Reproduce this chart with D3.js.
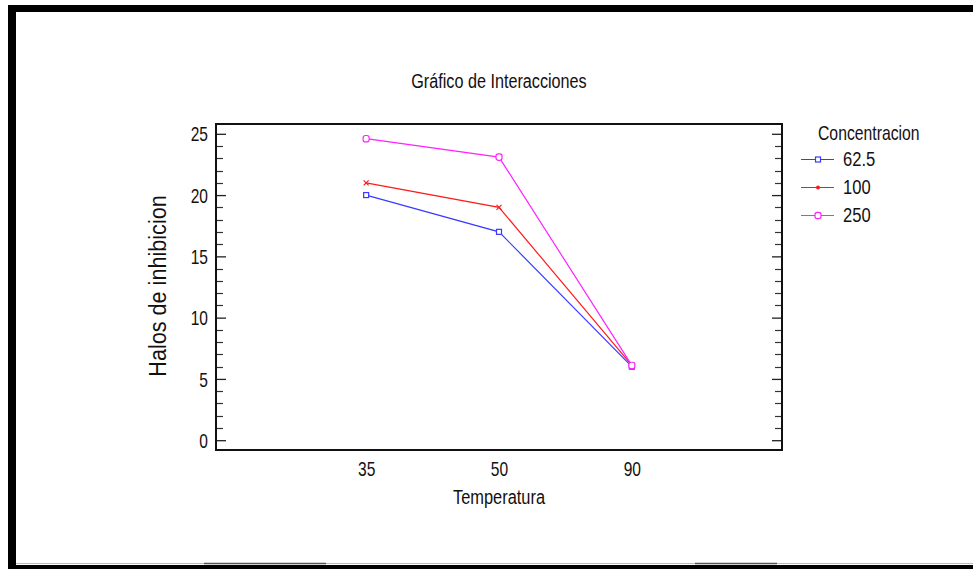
<!DOCTYPE html>
<html>
<head>
<meta charset="utf-8">
<script src="https://cdn.jsdelivr.net/npm/d3@7/dist/d3.min.js"></script>
<style>
  html, body { margin: 0; padding: 0; background: #fff; }
  svg { display: block; }
  text { font-family: Arial, "Liberation Sans", sans-serif; fill: #141010; }
</style>
</head>
<body>
<svg id="chart" width="973" height="569"></svg>
<script>
// ---- data ----
const categories = ["35", "50", "90"];
const seriesNames = ["62.5", "100", "250"];
const values625 = [20.0, 17.0, 6.0];
const values100 = [21.0, 19.0, 6.1];
const values250 = [24.6, 23.1, 6.1];
const yTicks = [0, 5, 10, 15, 20, 25];
const titleText = "Gráfico de Interacciones";
const xTitle = "Temperatura";
const yTitle = "Halos de inhibicion";
const legendTitle = "Concentracion";

const series = [
  { name: seriesNames[0], values: values625, color: "#3a3aff", marker: "square" },
  { name: seriesNames[1], values: values100, color: "#ff1a1a", marker: "cross" },
  { name: seriesNames[2], values: values250, color: "#ff22ff", marker: "circle" }
];

const svg = d3.select("#chart");

// squeeze helper: keeps text tall and narrow like the reference
function squeeze(sel, f) {
  sel.each(function () {
    const w = this.getComputedTextLength();
    d3.select(this).attr("textLength", w * f).attr("lengthAdjust", "spacingAndGlyphs");
  });
}

// outer frame (screenshot border)
svg.append("rect").attr("x", 8).attr("y", 5).attr("width", 965).attr("height", 7).attr("fill", "#000");
svg.append("rect").attr("x", 8).attr("y", 5).attr("width", 8).attr("height", 564).attr("fill", "#000");
svg.append("rect").attr("x", 8).attr("y", 565).attr("width", 965).attr("height", 4).attr("fill", "#000");
svg.append("line").attr("x1", 16).attr("x2", 973).attr("y1", 563.5).attr("y2", 563.5).attr("stroke", "#b8b8b8").attr("stroke-width", 1);
svg.append("line").attr("x1", 204).attr("x2", 326).attr("y1", 563.5).attr("y2", 563.5).attr("stroke", "#555").attr("stroke-width", 1.5);
svg.append("line").attr("x1", 695).attr("x2", 777).attr("y1", 563.5).attr("y2", 563.5).attr("stroke", "#555").attr("stroke-width", 1.5);

// plot area
const L = 216, R = 782, T = 124, B = 450;
const x = d3.scalePoint().domain(categories).range([L, R]).padding(1.13);
const y = d3.scaleLinear().domain([-0.8, 25.8]).range([B, T]);

// minor ticks (1 unit) and major ticks, both sides, pointing inward
const minor = d3.range(0, 26).filter(v => v % 5 !== 0);
const gTicks = svg.append("g").attr("stroke", "#333").attr("stroke-width", 1.2);
minor.forEach(v => {
  const yy = Math.round(y(v)) + 0.5;
  gTicks.append("line").attr("x1", L).attr("x2", L + 7).attr("y1", yy).attr("y2", yy);
  gTicks.append("line").attr("x1", R).attr("x2", R - 7).attr("y1", yy).attr("y2", yy);
});

// left axis with major ticks inward
const yAxisL = d3.axisLeft(y).tickValues(yTicks).tickSize(-10).tickPadding(18).tickFormat(d3.format("d"));
const gL = svg.append("g").attr("transform", `translate(${L},0)`).call(yAxisL);
gL.select(".domain").remove();
gL.selectAll(".tick line").attr("stroke", "#222").attr("stroke-width", 1.3);
gL.selectAll(".tick text").attr("font-size", 21).attr("fill", "#141010")
  .attr("font-family", "Arial, 'Liberation Sans', sans-serif").attr("dy", "0.34em").attr("x", -8);
squeeze(gL.selectAll(".tick text"), 0.74);

// right axis
const yAxisR = d3.axisRight(y).tickValues(yTicks).tickSize(-10).tickFormat("");
const gR = svg.append("g").attr("transform", `translate(${R},0)`).call(yAxisR);
gR.select(".domain").remove();
gR.selectAll(".tick line").attr("stroke", "#222").attr("stroke-width", 1.3);

// x axis labels (no tick marks)
const xAxis = d3.axisBottom(x).tickSize(0).tickPadding(11);
const gX = svg.append("g").attr("transform", `translate(0,${B})`).call(xAxis);
gX.select(".domain").remove();
gX.selectAll(".tick text").attr("font-size", 21).attr("fill", "#141010")
  .attr("font-family", "Arial, 'Liberation Sans', sans-serif").attr("dy", "0.71em");
squeeze(gX.selectAll(".tick text"), 0.74);

// plot frame
svg.append("rect").attr("x", L).attr("y", T).attr("width", R - L).attr("height", B - T)
  .attr("fill", "none").attr("stroke", "#111").attr("stroke-width", 2);

// markers
function drawMarker(g, type, cx, cy, color) {
  if (type === "square") {
    g.append("rect").attr("x", cx - 2.5).attr("y", cy - 2.5).attr("width", 5).attr("height", 5)
      .attr("fill", "#fff").attr("stroke", color).attr("stroke-width", 1.2);
  } else if (type === "cross") {
    g.append("path").attr("d", `M${cx - 2.5},${cy - 2.5}L${cx + 2.5},${cy + 2.5}M${cx - 2.5},${cy + 2.5}L${cx + 2.5},${cy - 2.5}`)
      .attr("stroke", color).attr("stroke-width", 1.2).attr("fill", "none");
  } else {
    g.append("rect").attr("x", cx - 3).attr("y", cy - 3.2).attr("width", 6).attr("height", 6.4).attr("rx", 2.2)
      .attr("fill", "#fff").attr("stroke", color).attr("stroke-width", 1.2);
  }
}

const line = d3.line().x((d, i) => x(categories[i])).y(d => y(d));
series.forEach(s => {
  svg.append("path").datum(s.values).attr("d", line)
    .attr("fill", "none").attr("stroke", s.color).attr("stroke-width", 1.2);
});
series.forEach(s => {
  const g = svg.append("g");
  s.values.forEach((v, i) => drawMarker(g, s.marker, x(categories[i]), y(v), s.color));
});

// title
const tt = svg.append("text").attr("x", 499).attr("y", 88).attr("text-anchor", "middle")
  .attr("font-size", 19.5).text(titleText);
squeeze(tt, 0.83);

// x title
const xt = svg.append("text").attr("x", 499).attr("y", 504).attr("text-anchor", "middle")
  .attr("font-size", 20).text(xTitle);
squeeze(xt, 0.82);

// y title
const yt = svg.append("text").attr("transform", "translate(166,286) rotate(-90)").attr("text-anchor", "middle")
  .attr("font-size", 23).text(yTitle);
squeeze(yt, 0.94);

// legend
const lt = svg.append("text").attr("x", 818).attr("y", 140).attr("font-size", 21).text(legendTitle);
squeeze(lt, 0.75);
const legendY = [159.5, 187.5, 215.5];
series.forEach((s, i) => {
  const ly = legendY[i];
  svg.append("line").attr("x1", 801).attr("x2", 834).attr("y1", ly).attr("y2", ly)
    .attr("stroke", s.color).attr("stroke-width", 1.2);
  const g = svg.append("g");
  if (s.marker === "cross") {
    g.append("circle").attr("cx", 818).attr("cy", ly).attr("r", 2).attr("fill", s.color);
  } else {
    drawMarker(g, s.marker, 818, ly, s.color);
  }
  const t = svg.append("text").attr("x", 843).attr("y", ly + 6.5).attr("font-size", 19.5).text(s.name);
  squeeze(t, 0.85);
});
</script>
</body>
</html>
